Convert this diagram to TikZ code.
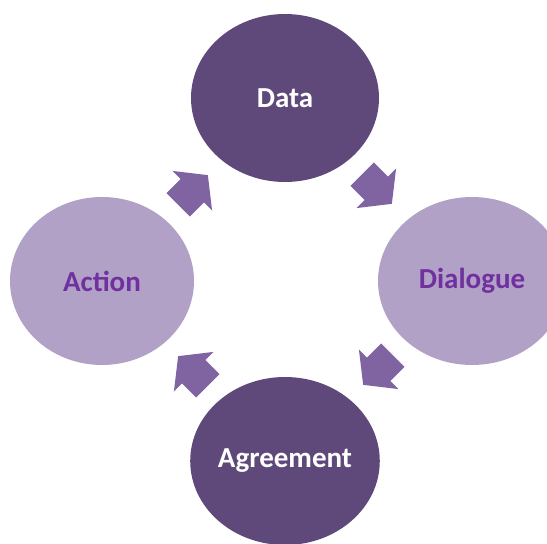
\documentclass[tikz,border=0pt]{standalone}
\usepackage{fontspec}
\setmainfont{Carlito}
\usetikzlibrary{shapes.geometric}
\definecolor{darkpurple}{HTML}{5F497A}
\definecolor{lightpurple}{HTML}{B2A1C7}
\definecolor{arrowpurple}{HTML}{8064A2}
\definecolor{textpurple}{HTML}{7030A0}
\begin{document}
\begin{tikzpicture}[x=1pt,y=1pt]
% Styles
\tikzset{
    darkcircle/.style={ellipse,fill=darkpurple,text=white,
        minimum width=188pt,minimum height=168pt,inner sep=0pt,
        font=\fontsize{29}{34}\selectfont\bfseries},
    lightcircle/.style={darkcircle,fill=lightpurple,text=textpurple},
    blockarrow/.pic={
        \fill[arrowpurple] (-21,-16.5) -- (-1,-16.5) -- (-1,-28) -- (21,0)
            -- (-1,28) -- (-1,16.5) -- (-21,16.5) -- cycle;
    },
}
% Frame
\clip (0,0) rectangle (547,544);
\fill[white] (0,0) rectangle (547,544);
% Circles
\node[darkcircle]  (data)      at (285,446) {Data};
\node[lightcircle] (dialogue)  at (472,263) {Dialogue};
\node[darkcircle]  (agreement) at (285,83)  {Agreement};
\node[lightcircle,minimum width=184pt] (action) at (102,263) {Action};
% Arrows
\pic[rotate=45]   at (193,354) {blockarrow};
\pic[rotate=-45]  at (377,355) {blockarrow};
\pic[rotate=-135] at (378,174) {blockarrow};
\pic[rotate=135]  at (193,173) {blockarrow};
\end{tikzpicture}
\end{document}
